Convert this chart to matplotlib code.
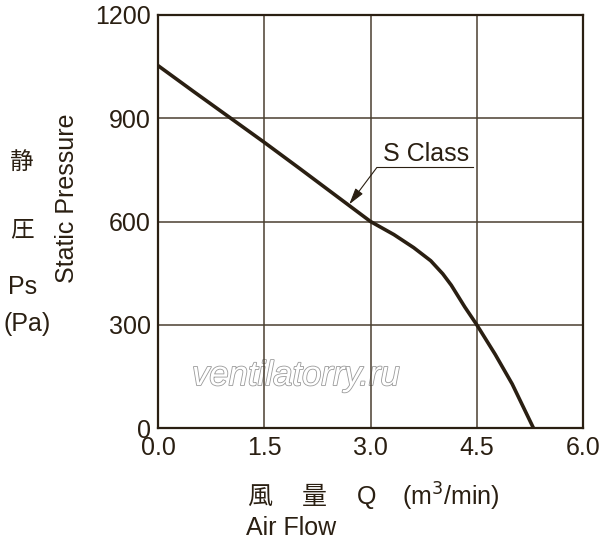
import matplotlib
matplotlib.use('Agg')
import matplotlib.pyplot as plt
import matplotlib.patheffects as pe

flow = [0.0, 0.5, 1.0, 1.5, 2.0, 2.5, 3.0, 3.33, 3.61, 3.85, 4.02, 4.14, 4.33, 4.5,
        4.76, 5.0, 5.3]
pressure = [1053, 978, 904, 830, 754, 677, 600, 562, 524, 486, 448, 415, 352, 300,
            214, 128, 0]

x_ticks = [0.0, 1.5, 3.0, 4.5, 6.0]
x_tick_labels = ['0.0', '1.5', '3.0', '4.5', '6.0']
y_ticks = [0, 300, 600, 900, 1200]
y_tick_labels = ['0', '300', '600', '900', '1200']

series_name = 'S Class'

ink = '#2a1f12'
grid_ink = '#4a3f30'
fonts = ['Liberation Sans', 'Noto Sans CJK JP', 'DejaVu Sans']
plt.rcParams['font.family'] = fonts

W, H = 600, 548
fig = plt.figure(figsize=(W / 100, H / 100), dpi=100)
ax = fig.add_axes([158 / W, 1 - 428 / H, (583 - 158) / W, (428 - 15) / H])

# watermark
ax.text(1.95, 152, 'ventilatorry.ru', fontsize=25, style='italic',
        color='white', ha='center', va='center', zorder=0,
        path_effects=[pe.withStroke(linewidth=1.2, foreground='#9a9a9a')])

ax.plot(flow, pressure, color=ink, lw=2.6, solid_capstyle='butt',
        solid_joinstyle='round', zorder=3)

ax.set_xlim(0, 6.0)
ax.set_ylim(0, 1200)
ax.set_xticks(x_ticks)
ax.set_xticklabels(x_tick_labels)
ax.set_yticks(y_ticks)
ax.set_yticklabels(y_tick_labels)
ax.tick_params(length=0, labelsize=18, colors=ink)
ax.tick_params(axis='x', pad=6)
ax.tick_params(axis='y', pad=5)
ax.grid(True, color=grid_ink, lw=1.1)
for s in ax.spines.values():
    s.set_color(ink)
    s.set_linewidth(1.6)

# S Class label with leader
ax.text(3.79, 797, series_name, fontsize=18, color=ink, ha='center', va='center',
        bbox=dict(facecolor='white', edgecolor='none', pad=2), zorder=4)
ax.plot([3.09, 4.45], [757, 757], color=ink, lw=0.8, zorder=4)
ax.annotate('', xy=(2.70, 650), xytext=(3.09, 757),
            arrowprops=dict(arrowstyle='-|>,head_length=1.0,head_width=0.28',
                            color=ink, lw=0.8, shrinkA=0, shrinkB=0), zorder=4)

# y axis labels
def fx(px):
    return px / W

def fy(py):
    return 1 - py / H

fig.text(fx(22), fy(163), '静', fontsize=17, color=ink, ha='center', va='center')
fig.text(fx(22), fy(230), '圧', fontsize=17, color=ink, ha='center', va='center')
fig.text(fx(23), fy(287), 'Ps', fontsize=18, color=ink, ha='center', va='center')
fig.text(fx(27), fy(324), '(Pa)', fontsize=18, color=ink, ha='center', va='center')
fig.text(fx(67), fy(198), 'Static Pressure', fontsize=18, color=ink,
         ha='center', va='center', rotation=90)

# x axis labels
fig.text(fx(247), fy(497), '風', fontsize=18, color=ink, ha='left', va='center')
fig.text(fx(302), fy(497), '量', fontsize=18, color=ink, ha='left', va='center')
fig.text(fx(357), fy(497), 'Q', fontsize=18, color=ink, ha='left', va='center')
fig.text(fx(402), fy(497), '(m$^3$/min)', fontsize=18, color=ink, ha='left', va='center')
fig.text(fx(246), fy(528), 'Air Flow', fontsize=18, color=ink, ha='left', va='center')

fig.savefig('out.png', dpi=100)
